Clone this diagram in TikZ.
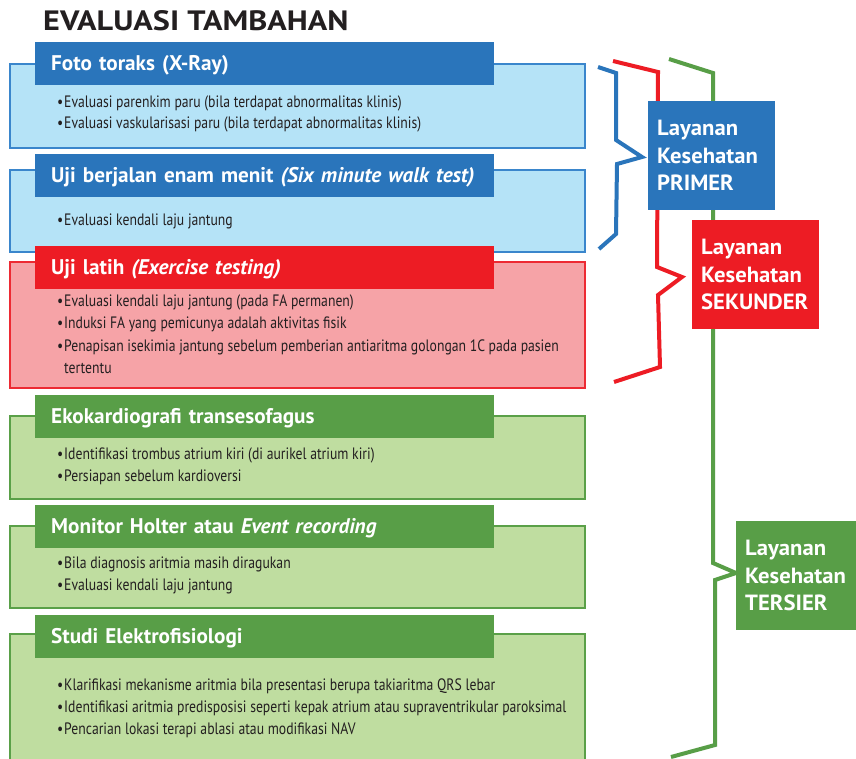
\documentclass[tikz,border=0pt]{standalone}
\usepackage{fontspec}
\setmainfont{PT Sans}
\newfontfamily\titlefont[FakeStretch=1.15]{PT Sans}
\newfontfamily\labfont[FakeStretch=1.03]{PT Sans}
\newfontfamily\bulfont[FakeStretch=0.83]{PT Sans}
\definecolor{hblue}{HTML}{2A75BB}
\definecolor{fblue}{HTML}{B5E3F7}
\definecolor{dblue}{HTML}{3A86CC}
\definecolor{hred}{HTML}{ED1C24}
\definecolor{fred}{HTML}{F6A3A7}
\definecolor{dred}{HTML}{ED2A33}
\definecolor{hgreen}{HTML}{589E47}
\definecolor{fgreen}{HTML}{BFDDA0}
\definecolor{dgreen}{HTML}{5AA048}
\definecolor{ink}{HTML}{231F20}
\tikzset{
 outer/.style={line width=2pt, minimum width=575pt, anchor=north west, inner sep=0pt},
 hdr/.style={minimum width=459pt, minimum height=43pt, anchor=north west, inner xsep=16pt, inner ysep=0pt, text width=427pt, align=left, text height=15pt, text depth=2pt, text=white, font=\bfseries\fontsize{21.2}{22}\selectfont},
 bul/.style={anchor=base west, inner sep=0pt, font=\bulfont\fontsize{16.5}{18}\selectfont, text=ink},
 lab/.style={anchor=north west, minimum width=127pt, minimum height=109pt, text width=109pt, inner xsep=9pt, inner ysep=0pt, align=left, text=white, font=\labfont\bfseries\fontsize{22}{27.5}\selectfont},
 brace/.style={line width=4pt, line join=miter},
}
\newcommand{\bl}{\makebox[7pt][l]{•}}
\begin{document}
\begin{tikzpicture}[x=1pt,y=-1pt]
\clip (0,0) rectangle (856,758);
\fill[white] (0,0) rectangle (856,758);
% title
\node[anchor=base west, inner sep=0pt, text=ink, font=\titlefont\bfseries\fontsize{28}{30}\selectfont] (title) at (43,30) {EVALUASI TAMBAHAN};
% box 1
\node[outer, draw=dblue, fill=fblue, minimum height=84pt] (o1) at (9,63) {};
\node[hdr, fill=hblue] (h1) at (35,42) {Foto toraks (X-Ray)};
\node[bul] (b1a) at (57,107) {\bl Evaluasi parenkim paru (bila terdapat abnormalitas klinis)};
\node[bul] (b1b) at (57,128) {\bl Evaluasi vaskularisasi paru (bila terdapat abnormalitas klinis)};
% box 2
\node[outer, draw=dblue, fill=fblue, minimum height=82pt] (o2) at (9,169) {};
\node[hdr, fill=hblue] (h2) at (35,154) {Uji berjalan enam menit \textit{(Six minute walk test)}};
\node[bul] (b2a) at (57,225) {\bl Evaluasi kendali laju jantung};
% box 3
\node[outer, draw=dred, fill=fred, minimum height=126pt] (o3) at (9,261) {};
\node[hdr, fill=hred] (h3) at (35,246) {Uji latih \textit{(Exercise testing)}};
\node[bul] (b3a) at (57,306) {\bl Evaluasi kendali laju jantung (pada FA permanen)};
\node[bul] (b3b) at (57,328) {\bl Induksi FA yang pemicunya adalah aktivitas fisik};
\node[bul] (b3c) at (57,351) {\bl Penapisan isekimia jantung sebelum pemberian antiaritma golongan 1C pada pasien};
\node[bul] (b3d) at (64,373) {tertentu};
% box 4
\node[outer, draw=dgreen, fill=fgreen, minimum height=83pt] (o4) at (9,415) {};
\node[hdr, fill=hgreen] (h4) at (35,395) {Ekokardiografi transesofagus};
\node[bul] (b4a) at (57,459) {\bl Identifikasi trombus atrium kiri (di aurikel atrium kiri)};
\node[bul] (b4b) at (57,481) {\bl Persiapan sebelum kardioversi};
% box 5
\node[outer, draw=dgreen, fill=fgreen, minimum height=82pt] (o5) at (9,525) {};
\node[hdr, fill=hgreen] (h5) at (35,505) {Monitor Holter atau \textit{Event recording}};
\node[bul] (b5a) at (57,568) {\bl Bila diagnosis aritmia masih diragukan};
\node[bul] (b5b) at (57,590) {\bl Evaluasi kendali laju jantung};
% box 6
\node[outer, draw=dgreen, fill=fgreen, minimum height=140pt] (o6) at (9,633) {};
\node[hdr, fill=hgreen] (h6) at (35,615) {Studi Elektrofisiologi};
\node[bul] (b6a) at (57,690) {\bl Klarifikasi mekanisme aritmia bila presentasi berupa takiaritma QRS lebar};
\node[bul] (b6b) at (57,712) {\bl Identifikasi aritmia predisposisi seperti kepak atrium atau supraventrikular paroksimal};
\node[bul] (b6c) at (57,734) {\bl Pencarian lokasi terapi ablasi atau modifikasi NAV};
% braces
\draw[brace, hgreen] (669,59) -- (713,73) -- (713,563) -- (736,573) -- (715,580) -- (715,745) -- (671,757);
\draw[brace, hred] (613,61) -- (658,72) -- (657,267) -- (682,277) -- (658,295) -- (660,367) -- (614,382);
\draw[brace, hblue] (598,67) -- (616,73) -- (616,140) -- (642,157) -- (617,164) -- (616,234) -- (599,249);
% labels
\node[lab, fill=hblue] (prim) at (648,101) {Layanan\\Kesehatan\\PRIMER};
\node[lab, fill=hred] (sek) at (692,220) {Layanan\\Kesehatan\\SEKUNDER};
\node[lab, fill=hgreen, minimum width=120pt] (ter) at (736,521) {Layanan\\Kesehatan\\TERSIER};
\end{tikzpicture}
\end{document}
